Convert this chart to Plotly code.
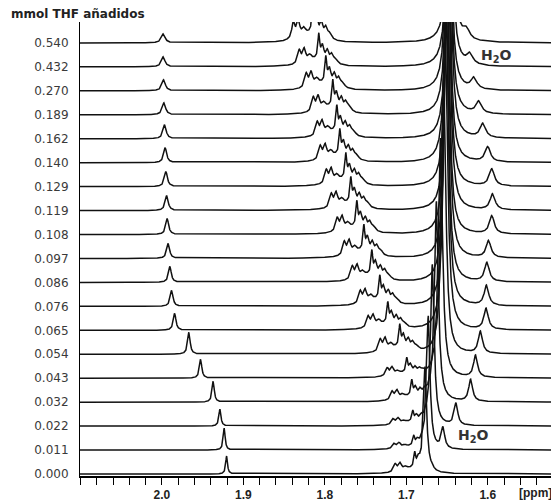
import numpy as np
import plotly.graph_objects as go

# ---- data (bottom trace first) ----
thf_mmol = ["0.000", "0.011", "0.022", "0.032", "0.043", "0.054", "0.065", "0.076",
            "0.086", "0.097", "0.108", "0.119", "0.129", "0.140", "0.162", "0.189",
            "0.270", "0.432", "0.540"]

# singlet near 2.0 ppm
s1_ppm = [1.9206, 1.9236, 1.9288, 1.9371, 1.9525, 1.9669, 1.9844, 1.9881, 1.9902, 1.9923,
          1.9935, 1.9942, 1.9951, 1.9960, 1.9967, 1.9975, 1.9979, 1.9984, 1.9984]
s1_int = [18, 22, 17, 21, 19, 22, 17, 16, 16, 15, 16, 15, 15, 15, 14, 12, 11, 10, 9]
s1_hw = [0.0013, 0.0014, 0.0015, 0.0016, 0.0017, 0.0018, 0.0019, 0.0020, 0.0020, 0.0021,
         0.0021, 0.0022, 0.0022, 0.0022, 0.0023, 0.0024, 0.0025, 0.0026, 0.0027]

# THF multiplet (tallest line position and intensity)
mult_ppm = [1.6896, 1.6908, 1.6920, 1.6933, 1.6994, 1.7080, 1.7227, 1.7325, 1.7423, 1.7521,
            1.7607, 1.7681, 1.7742, 1.7816, 1.7853, 1.7902, 1.7988, 1.8074, 1.8147]
mult_int = [14, 9, 10, 15, 14, 21, 20, 22, 23, 24, 24, 24, 24, 24, 24, 25, 25, 24, 30]
# multiplet line pattern relative to the tallest line
mult_off = [0.0240, 0.0180, 0.0110, 0.0, -0.0045, -0.0105, -0.0160, -0.0210, 0.0040]
mult_rel = [0.55, 0.55, 0.22, 1.0, 0.60, 0.45, 0.35, 0.18, 0.27]
mult_hw = [0.0023, 0.0023, 0.0025, 0.0013, 0.0022, 0.0022, 0.0024, 0.0028, 0.0150]

# main (solvent) peak
main_ppm = [1.6770, 1.6730, 1.6680, 1.6630, 1.6580, 1.6540, 1.6520, 1.6510, 1.6510, 1.6500,
            1.6500, 1.6490, 1.6490, 1.6490, 1.6480, 1.6480, 1.6480, 1.6470, 1.6460]
main_int = [100, 130, 160, 200, 240, 280, 300, 300, 300, 300, 300, 300, 300, 300, 300, 300,
            300, 300, 300]
main_hw = [0.0022, 0.0024, 0.0026, 0.0028, 0.0030, 0.0030, 0.0032, 0.0032, 0.0032, 0.0032,
           0.0032, 0.0032, 0.0032, 0.0032, 0.0032, 0.0032, 0.0032, 0.0032, 0.0032]

# water peak
h2o_ppm = [1.6770, 1.6550, 1.6390, 1.6210, 1.6150, 1.6090, 1.6020, 1.6016, 1.6010, 1.5990,
           1.5950, 1.5940, 1.5950, 1.6000, 1.6060, 1.6110, 1.6170, 1.6220, 1.6260]
h2o_int = [0, 21, 22, 22, 22, 22, 21, 20, 19, 17, 18, 16, 17, 15, 14, 12, 11, 10, 9]
h2o_hw = [0.0024, 0.0025, 0.0026, 0.0028, 0.0029, 0.0030, 0.0032, 0.0033, 0.0034, 0.0035,
          0.0036, 0.0037, 0.0038, 0.0039, 0.0040, 0.0041, 0.0042, 0.0043, 0.0044]

x_ticks = [round(2.10 - 0.02 * k, 2) for k in range(30)]
x_labels = {2.0: "2.0", 1.9: "1.9", 1.8: "1.8", 1.7: "1.7", 1.6: "1.6"}

STEP = 24.0  # vertical offset between stacked spectra (intensity units)


def lorentz(x, c, h, w):
    return h * w * w / ((x - c) ** 2 + w * w)


ppm = np.arange(1.512, 2.104, 0.0002)

fig = go.Figure()
for i, lab in enumerate(thf_mmol):
    y = np.full_like(ppm, i * STEP)
    y += lorentz(ppm, s1_ppm[i], s1_int[i], s1_hw[i])
    for o, r, w in zip(mult_off, mult_rel, mult_hw):
        y += lorentz(ppm, mult_ppm[i] + o, mult_int[i] * r, w)
    y += lorentz(ppm, main_ppm[i], main_int[i], main_hw[i])
    if h2o_int[i] > 0:
        y += lorentz(ppm, h2o_ppm[i], h2o_int[i], h2o_hw[i])
    fig.add_trace(go.Scatter(x=ppm, y=y, mode="lines", name=lab,
                             line=dict(color="#111111", width=1.5),
                             hoverinfo="skip", showlegend=False))

# the page body has an 8px default margin, so the figure is sized 8px smaller
fig.update_layout(
    width=551, height=496,
    margin=dict(l=72, r=2, t=14, b=28),
    paper_bgcolor="white", plot_bgcolor="white",
    xaxis=dict(range=[2.1006, 1.515], tickvals=x_ticks,
               ticktext=[x_labels.get(v, " ") for v in x_ticks],
               ticks="outside", ticklen=7, tickwidth=1.4, tickcolor="black",
               showline=True, linecolor="black", linewidth=1.5,
               showgrid=False, zeroline=False,
               tickfont=dict(family="Liberation Sans", size=12, color="#222222", weight="bold")),
    yaxis=dict(range=[-2, 453], tickvals=[i * STEP for i in range(len(thf_mmol))],
               ticktext=thf_mmol, ticks="outside", ticklen=8, tickcolor="rgba(0,0,0,0)",
               showline=True, linecolor="black", linewidth=1,
               showgrid=False, zeroline=False,
               tickfont=dict(family="DejaVu Sans", size=12, color="#3a3a3a")),
    annotations=[
        dict(text="mmol THF añadidos", xref="paper", yref="paper", x=0, y=1.0,
             xshift=-71, yshift=8, xanchor="left", yanchor="middle", showarrow=False,
             font=dict(family="DejaVu Sans", size=12, color="#222222", weight="bold")),
        dict(text="[ppm]", xref="paper", yref="paper", x=0.954, y=0, yshift=-17,
             xanchor="center", yanchor="middle", showarrow=False,
             font=dict(family="Liberation Sans", size=12, color="#222222", weight="bold")),
        dict(text="H<sub>2</sub>O", xref="x", yref="y", x=1.589, y=18 * STEP - 13,
             xanchor="center", yanchor="middle", showarrow=False,
             font=dict(family="DejaVu Sans", size=14, color="#333333", weight="bold")),
        dict(text="H<sub>2</sub>O", xref="x", yref="y", x=1.618, y=STEP + 14,
             xanchor="center", yanchor="middle", showarrow=False,
             font=dict(family="DejaVu Sans", size=14, color="#333333", weight="bold")),
    ],
)

fig.write_html("out.html")
